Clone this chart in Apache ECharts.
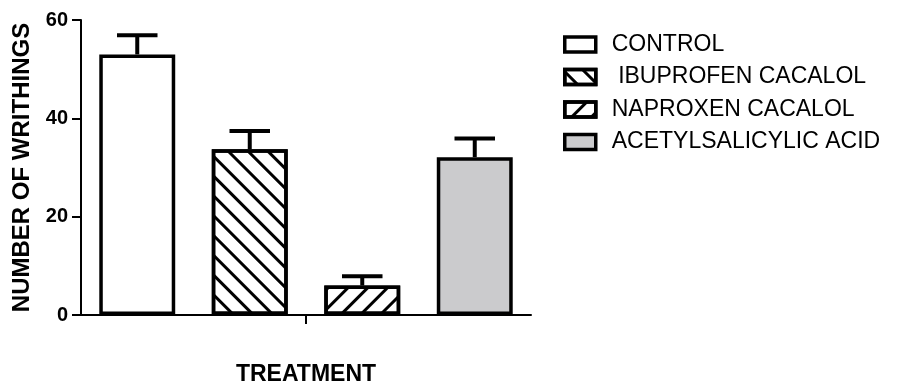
<!DOCTYPE html>
<html>
<head>
<meta charset="utf-8">
<script src="https://cdn.jsdelivr.net/npm/echarts@6/dist/echarts.min.js"></script>
<style>
html, body { margin: 0; padding: 0; background: #fff; }
#main { width: 898px; height: 383px; }
</style>
</head>
<body>
<div id="main"></div>
<script>
// groups and values
var groups = ['CONTROL', ' IBUPROFEN CACALOL', 'NAPROXEN CACALOL', 'ACETYLSALICYLIC ACID'];
var means = [53.0, 33.7, 6.0, 32.1];
var sem = [3.9, 3.7, 1.9, 3.8];
var fills = ['#ffffff', '#ffffff', '#ffffff', '#cbcbcd'];
var yTicks = [0, 20, 40, 60];

var FONT = 'Liberation Sans, Arial, sans-serif';

function hatch(angle) {
	return {
		symbol: 'rect',
		symbolSize: 1,
		color: '#000',
		dashArrayX: [1, 0],
		dashArrayY: [2.2, 10.5],
		rotation: angle
	};
}
var decals = [null, hatch(Math.PI / 4), hatch(-Math.PI / 4), null];

var myChart = echarts.init(document.getElementById('main'));

var series = [];
for (var i = 0; i < groups.length; i++) {
	var d = [];
	for (var j = 0; j < groups.length; j++) {
		d.push(j == i ? means[i] : '-');
	}
	var itemStyle = {
		color: fills[i],
		borderColor: '#000',
		borderWidth: 3.5
	};
	if (decals[i]) itemStyle.decal = decals[i];
	series.push({
		name: groups[i],
		type: 'bar',
		stack: 'all',
		barWidth: '67.5%',
		itemStyle: itemStyle,
		emphasis: { disabled: true },
		data: d
	});
}

var errData = [];
for (var k = 0; k < groups.length; k++) {
	errData.push([k, means[k], means[k] + sem[k]]);
}

// upper error bars (the lower half is hidden inside the bar)
series.push({
	type: 'custom',
	name: 'err',
	z: 10,
	data: errData,
	renderItem: function (params, api) {
		var base = api.coord([api.value(0), api.value(1)]);
		var top = api.coord([api.value(0), api.value(2)]);
		var half = api.size([1, 0])[0] * 0.18;
		var st = { stroke: '#000', lineWidth: 4 };
		return {
			type: 'group',
			children: [
				{ type: 'line', shape: { x1: top[0], y1: base[1], x2: top[0], y2: top[1] }, style: st },
				{ type: 'line', shape: { x1: top[0] - half, y1: top[1], x2: top[0] + half, y2: top[1] }, style: st }
			]
		};
	}
});

option = {
	animation: false,
	textStyle: { fontFamily: FONT },
	legend: {
		orient: 'vertical',
		left: 558,
		top: 28,
		data: groups,
		itemWidth: 31,
		itemHeight: 15,
		itemGap: 9.5,
		icon: 'rect',
		itemStyle: { borderWidth: 3.5 },
		textStyle: {
			color: '#000',
			fontSize: 23,
			fontFamily: FONT,
			padding: [0, 0, 0, 11]
		}
	},
	grid: {
		left: 81,
		right: 367,
		top: 20,
		bottom: 68,
		outerBoundsMode: 'none',
		containLabel: false
	},
	xAxis: [
		{
			type: 'category',
			data: groups,
			axisLine: { lineStyle: { color: '#000', width: 2 } },
			axisTick: { show: false },
			axisLabel: { show: false }
		},
		{
			// one tick in the middle of the axis, as in the figure
			type: 'value',
			position: 'bottom',
			offset: 0,
			min: 0,
			max: 2,
			axisLine: { show: false },
			axisTick: { show: true, customValues: [1], length: 9, lineStyle: { color: '#000', width: 2 } },
			axisLabel: { show: false },
			splitLine: { show: false },
			name: 'TREATMENT',
			nameLocation: 'middle',
			nameGap: 48,
			nameTextStyle: { color: '#000', fontSize: 23, fontWeight: 'bold', fontFamily: FONT }
		}
	],
	yAxis: {
		type: 'value',
		min: yTicks[0],
		max: yTicks[yTicks.length - 1],
		interval: 20,
		name: 'NUMBER OF WRITHINGS',
		nameLocation: 'middle',
		nameGap: 43,
		nameTextStyle: { color: '#000', fontSize: 24, fontWeight: 'bold', fontFamily: FONT },
		axisLine: { show: true, lineStyle: { color: '#000', width: 2 } },
		axisTick: { show: true, length: 9, lineStyle: { color: '#000', width: 2 } },
		axisLabel: { color: '#000', fontSize: 20, fontWeight: 'bold', margin: 13, fontFamily: FONT },
		splitLine: { show: false }
	},
	series: series
};

myChart.setOption(option);
</script>
</body>
</html>
